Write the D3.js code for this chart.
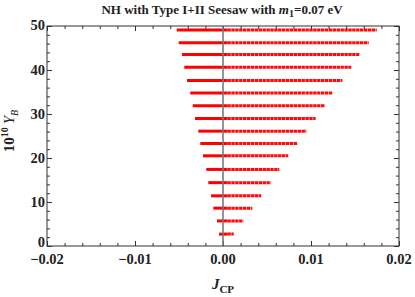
<!DOCTYPE html>
<html>
<head>
<meta charset="utf-8">
<script src="https://cdn.jsdelivr.net/npm/d3@7"></script>
<style>
  body { margin: 0; background: #fff; }
  svg text { font-family: "Liberation Serif", "Times New Roman", serif; font-weight: bold; }
</style>
</head>
<body>
<div id="chart"></div>
<script>
// values: one horizontal band of points per Y_B level
var ybLevels = [2.7, 5.7, 8.6, 11.4, 14.4, 17.4, 20.5, 23.3, 26.1, 29.0, 31.9, 34.8, 37.6, 40.6, 43.5, 46.2, 49.1];
var jcpMin = [-0.00045, -0.00068, -0.0011, -0.00136, -0.00167, -0.0019, -0.00227, -0.00258, -0.00281, -0.00318, -0.00344, -0.00372, -0.00409, -0.0044, -0.00466, -0.00503, -0.00526];
var jcpMax = [0.00122, 0.00231, 0.00333, 0.00435, 0.00542, 0.0064, 0.00742, 0.00844, 0.00947, 0.01053, 0.01156, 0.01247, 0.01356, 0.01458, 0.01549, 0.01656, 0.01747];

var xTicks = [-0.02, -0.01, 0, 0.01, 0.02];
var xTickLabels = ["\u22120.02", "\u22120.01", "0.00", "0.01", "0.02"];
var yTicks = [0, 10, 20, 30, 40, 50];

var margin = {top: 26, right: 16, bottom: 51, left: 47},
    width = 415 - margin.left - margin.right,
    height = 297 - margin.top - margin.bottom;

var svg = d3.select("#chart")
  .append("svg")
  .attr("width", 415)
  .attr("height", 297);

var g = svg.append("g")
  .attr("transform", "translate(" + margin.left + "," + margin.top + ")");

var x = d3.scaleLinear().domain([-0.02, 0.02]).range([0, width]);
var y = d3.scaleLinear().domain([0, 50]).range([height, 0]);

var xMinor = d3.range(-0.02, 0.0201, 0.002).filter(function(v) { return Math.abs(Math.round(v * 100) - v * 100) > 1e-6; });
var yMinor = d3.range(0, 50.1, 2).filter(function(v) { return v % 10 !== 0; });

var tickColor = "#333";

// ticks on all four sides, pointing in
function styleAxis(sel) {
  sel.select(".domain").remove();
  sel.selectAll("line").attr("stroke", tickColor);
  sel.selectAll("text").remove();
}
g.append("g").attr("transform", "translate(0," + height + ")")
  .call(d3.axisBottom(x).tickValues(xTicks).tickSize(-5)).call(styleAxis);
g.append("g").attr("transform", "translate(0," + height + ")")
  .call(d3.axisBottom(x).tickValues(xMinor).tickSize(-3)).call(styleAxis);
g.append("g")
  .call(d3.axisTop(x).tickValues(xTicks).tickSize(-5)).call(styleAxis);
g.append("g")
  .call(d3.axisTop(x).tickValues(xMinor).tickSize(-3)).call(styleAxis);
g.append("g")
  .call(d3.axisLeft(y).tickValues(yTicks).tickSize(-5)).call(styleAxis);
g.append("g")
  .call(d3.axisLeft(y).tickValues(yMinor).tickSize(-3)).call(styleAxis);
g.append("g").attr("transform", "translate(" + width + ",0)")
  .call(d3.axisRight(y).tickValues(yTicks).tickSize(-5)).call(styleAxis);
g.append("g").attr("transform", "translate(" + width + ",0)")
  .call(d3.axisRight(y).tickValues(yMinor).tickSize(-3)).call(styleAxis);

// tick labels
g.selectAll(".xlab")
  .data(xTicks)
  .enter().append("text")
    .attr("x", function(d) { return x(d); })
    .attr("y", height + 18)
    .attr("text-anchor", "middle")
    .style("font-size", "14.5px")
    .attr("fill", "#222")
    .text(function(d, i) { return xTickLabels[i]; });

g.selectAll(".ylab")
  .data(yTicks)
  .enter().append("text")
    .attr("x", -2)
    .attr("y", function(d) { return y(d); })
    .attr("dy", d => d === 0 ? "0.1em" : (d === 50 ? "0.28em" : "0.35em"))
    .attr("text-anchor", "end")
    .style("font-size", "14.5px")
    .attr("fill", "#222")
    .text(function(d) { return d; });

// the points: each level drawn as a dense band
var rows = ybLevels.map(function(v, i) { return {yb: v, lo: jcpMin[i], hi: jcpMax[i]}; });

g.selectAll(".solid")
  .data(rows)
  .enter().append("line")
    .attr("x1", function(d) { return x(d.lo); })
    .attr("x2", function(d) { return x(Math.min(0.0005, d.hi)); })
    .attr("y1", function(d) { return y(d.yb); })
    .attr("y2", function(d) { return y(d.yb); })
    .attr("stroke", "#ff0000")
    .attr("stroke-width", 3);

g.selectAll(".dotted")
  .data(rows)
  .enter().append("line")
    .attr("x1", function(d) { return x(Math.min(0.0005, d.hi)); })
    .attr("x2", function(d) { return x(d.hi); })
    .attr("y1", function(d) { return y(d.yb); })
    .attr("y2", function(d) { return y(d.yb); })
    .attr("stroke", "#ff0808")
    .attr("stroke-width", 3)
    .attr("stroke-dasharray", "3.4,0.5");

// zero line
g.append("line")
  .attr("x1", x(0)).attr("x2", x(0))
  .attr("y1", 0).attr("y2", height)
  .attr("stroke", "#7a7a7a")
  .attr("stroke-width", 1.6);

// frame
g.append("rect")
  .attr("width", width).attr("height", height)
  .attr("fill", "none")
  .attr("stroke", tickColor)
  .attr("stroke-width", 1);

// title
var title = svg.append("text")
  .attr("x", 222).attr("y", 14)
  .attr("text-anchor", "middle")
  .style("font-size", "13px")
  .attr("fill", "#222");
title.append("tspan").text("NH with Type I+II Seesaw with ");
title.append("tspan").style("font-style", "italic").text("m");
title.append("tspan").attr("dy", 3).style("font-size", "10px").text("1");
title.append("tspan").attr("dy", -3).text("=0.07 eV");

// x label
var xl = svg.append("text")
  .attr("x", 223).attr("y", 289)
  .attr("text-anchor", "middle")
  .style("font-size", "15px")
  .attr("fill", "#222");
xl.append("tspan").style("font-style", "italic").text("J");
xl.append("tspan").attr("dy", 4).style("font-size", "11px").text("CP");

// y label
var yl = svg.append("text")
  .attr("transform", "translate(14,131) rotate(-90)")
  .attr("text-anchor", "middle")
  .style("font-size", "15px")
  .attr("fill", "#222");
yl.append("tspan").text("10");
yl.append("tspan").attr("dy", -6).style("font-size", "10px").text("10");
yl.append("tspan").attr("dy", 6).text("\u2009");
yl.append("tspan").style("font-style", "italic").style("font-weight", "normal").text("Y");
yl.append("tspan").attr("dy", 4).style("font-size", "10px").style("font-style", "italic").style("font-weight", "normal").text("B");
</script>
</body>
</html>
